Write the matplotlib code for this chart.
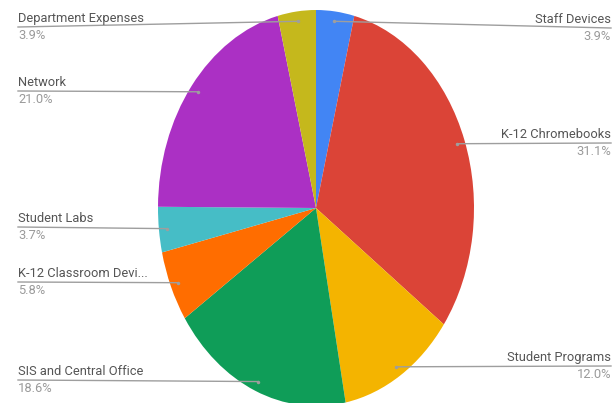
import matplotlib
matplotlib.use("Agg")
import matplotlib.pyplot as plt
import numpy as np

labels = ["Staff Devices", "K-12 Chromebooks", "Student Programs", "SIS and Central Office",
          "K-12 Classroom Devi...", "Student Labs", "Network", "Department Expenses"]
values = [3.9, 31.1, 12.0, 18.6, 5.8, 3.7, 21.0, 3.9]
colors = ["#4285F4", "#DB4437", "#F4B400", "#0F9D58", "#FF6D00", "#46BDC6", "#AB30C4", "#C5B81C"]

# label layout: (side, line y in pixels)
label_y = [28, 143, 366, 380, 282, 227, 91, 27]
label_side = ["R", "R", "R", "L", "L", "L", "L", "L"]

W, H = 613, 403
fig = plt.figure(figsize=(W / 100, H / 100), dpi=100)
fig.patch.set_facecolor("white")

cx, cy, rx, ry = 316, 208, 158, 198
pax = fig.add_axes([(cx - rx) / W, (H - (cy + ry)) / H, 2 * rx / W, 2 * ry / H])
wedges, _ = pax.pie(values, colors=colors, startangle=90, counterclock=False,
                    wedgeprops=dict(linewidth=0))
pax.set_aspect("auto")
pax.set_xlim(-1, 1)
pax.set_ylim(-1, 1)
pax.axis("off")

ov = fig.add_axes([0, 0, 1, 1])
ov.set_xlim(0, W)
ov.set_ylim(H, 0)
ov.axis("off")

fs = 9.3
total = sum(values)
cum = 0
for lab, v, ly, side in zip(labels, values, label_y, label_side):
    mid = cum + v / 2
    cum += v
    ang = np.deg2rad(90 - 360 * mid / total)
    px = cx + rx * 0.95 * np.cos(ang)
    py = cy - ry * 0.95 * np.sin(ang)
    pct = f"{v:.1f}%"
    if side == "R":
        ex = 611
        ov.plot([px, ex], [py, ly], color="#9e9e9e", lw=1.0)
        ov.text(ex, ly - 2, lab, ha="right", va="bottom", fontsize=fs, color="#555555", family="Roboto")
        ov.text(ex, ly + 2, pct, ha="right", va="top", fontsize=fs, color="#9a9a9a", family="Roboto")
    else:
        ex = 18
        ov.plot([ex, px], [ly, py], color="#9e9e9e", lw=1.0)
        ov.text(ex, ly - 2, lab, ha="left", va="bottom", fontsize=fs, color="#555555", family="Roboto")
        ov.text(ex, ly + 2, pct, ha="left", va="top", fontsize=fs, color="#9a9a9a", family="Roboto")
    ov.plot([px], [py], marker="o", ms=2.5, color="#9e9e9e", mec="none")

fig.savefig("out.png", dpi=100, facecolor="white")
